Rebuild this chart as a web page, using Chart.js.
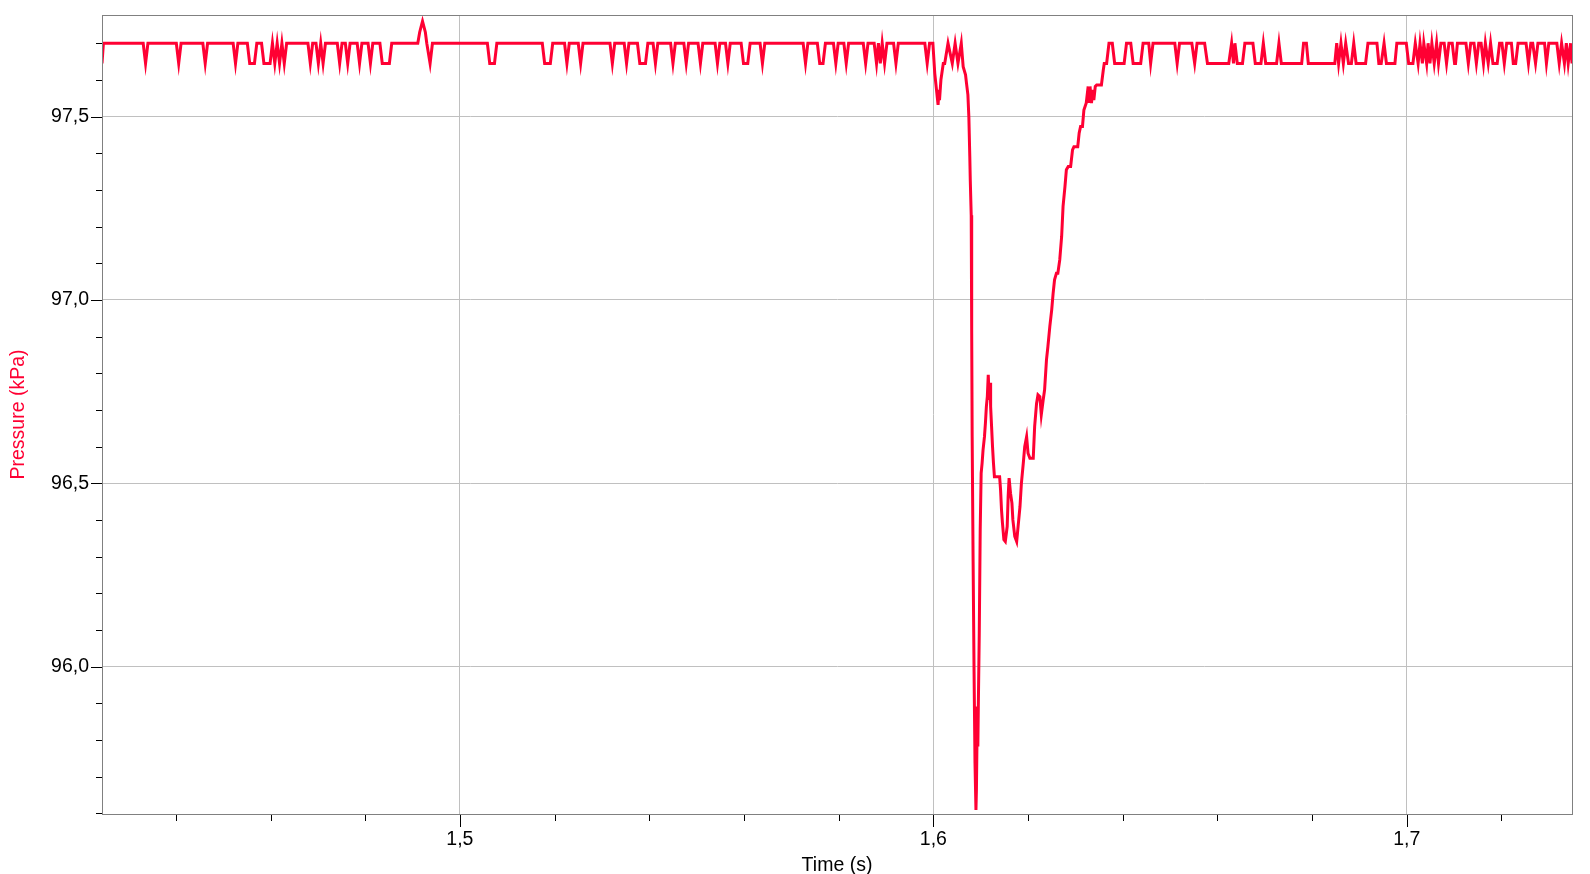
<!DOCTYPE html>
<html>
<head>
<meta charset="utf-8">
<title>Pressure vs time</title>
<script src="https://cdn.jsdelivr.net/npm/chart.js@4.4.1/dist/chart.umd.min.js"></script>
<style>
  html, body { margin: 0; padding: 0; background: #fff; }
  canvas { display: block; }
</style>
</head>
<body>
<canvas id="chart" width="1590" height="874"></canvas>
<script>
// --- data (time in s, pressure in kPa) ---

// quiet baseline before the event: sensor flips between 97,70 and 97,645
const quietTimes = [
  1.4244, 1.4247,
  1.4331, 1.4336, 1.4341,
  1.4401, 1.4406, 1.4411,
  1.4457, 1.4462, 1.4467,
  1.4521, 1.4526, 1.4531,
  1.4551, 1.4556, 1.4566, 1.4571,
  1.4581, 1.4586, 1.4599, 1.4604, 1.4609, 1.4614, 1.4619, 1.4624, 1.4629, 1.4634,
  1.4679, 1.4684, 1.4689,
  1.4696, 1.4701, 1.4706, 1.4711, 1.4716,
  1.4741, 1.4746, 1.4751,
  1.4758, 1.4763, 1.4768,
  1.4783, 1.4788, 1.4793,
  1.4806, 1.4811, 1.4816,
  1.4831, 1.4836, 1.4851, 1.4856,
  1.4911, 1.4915, 1.4921, 1.4927, 1.4930, 1.4937, 1.4942,
  1.5058, 1.5063, 1.5073, 1.5078,
  1.5174, 1.5179, 1.5191, 1.5196,
  1.5221, 1.5226, 1.5231,
  1.5250, 1.5255, 1.5260,
  1.5317, 1.5322, 1.5327,
  1.5347, 1.5352, 1.5357,
  1.5375, 1.5380, 1.5392, 1.5397,
  1.5408, 1.5413, 1.5418,
  1.5445, 1.5450, 1.5455,
  1.5473, 1.5478, 1.5483,
  1.5503, 1.5508, 1.5513,
  1.5539, 1.5544, 1.5549,
  1.5561, 1.5566, 1.5571,
  1.5594, 1.5599, 1.5608, 1.5613,
  1.5634, 1.5639, 1.5644,
  1.5725, 1.5730, 1.5735,
  1.5755, 1.5760, 1.5767, 1.5772,
  1.5789, 1.5794, 1.5799,
  1.5811, 1.5816, 1.5821,
  1.5852, 1.5857, 1.5862,
  1.5875, 1.5880, 1.5884, 1.5888, 1.5892, 1.5897, 1.5902,
  1.5916, 1.5921, 1.5926,
  1.5982, 1.5987, 1.5992, 1.5999
];
const quietPressure = [
  97.645, 97.70,
  97.70, 97.645, 97.70,
  97.70, 97.645, 97.70,
  97.70, 97.645, 97.70,
  97.70, 97.645, 97.70,
  97.70, 97.645, 97.645, 97.70,
  97.70, 97.645, 97.645, 97.70, 97.645, 97.70, 97.645, 97.70, 97.645, 97.70,
  97.70, 97.645, 97.70,
  97.70, 97.645, 97.70, 97.645, 97.70,
  97.70, 97.645, 97.70,
  97.70, 97.645, 97.70,
  97.70, 97.645, 97.70,
  97.70, 97.645, 97.70,
  97.70, 97.645, 97.645, 97.70,
  97.70, 97.73, 97.76, 97.73, 97.70, 97.645, 97.70,
  97.70, 97.645, 97.645, 97.70,
  97.70, 97.645, 97.645, 97.70,
  97.70, 97.645, 97.70,
  97.70, 97.645, 97.70,
  97.70, 97.645, 97.70,
  97.70, 97.645, 97.70,
  97.70, 97.645, 97.645, 97.70,
  97.70, 97.645, 97.70,
  97.70, 97.645, 97.70,
  97.70, 97.645, 97.70,
  97.70, 97.645, 97.70,
  97.70, 97.645, 97.70,
  97.70, 97.645, 97.70,
  97.70, 97.645, 97.645, 97.70,
  97.70, 97.645, 97.70,
  97.70, 97.645, 97.70,
  97.70, 97.645, 97.645, 97.70,
  97.70, 97.645, 97.70,
  97.70, 97.645, 97.70,
  97.70, 97.645, 97.70,
  97.70, 97.645, 97.70, 97.645, 97.70, 97.645, 97.70,
  97.70, 97.645, 97.70,
  97.70, 97.645, 97.70, 97.70
];

// the pressure drop and recovery around 1,61 s
const dropTimes = [
  1.6003, 1.6010, 1.6012, 1.6013, 1.6016, 1.6018, 1.6021, 1.6024,
  1.6031, 1.6040, 1.6046, 1.6052, 1.6059, 1.6063, 1.6068, 1.6070,
  1.6073, 1.6075, 1.6077, 1.6078, 1.6080, 1.6081, 1.6082, 1.6084,
  1.6086, 1.6088, 1.6090, 1.6091, 1.6093, 1.6094, 1.6095, 1.6097,
  1.6099, 1.6101, 1.6103, 1.6105, 1.6108, 1.6110, 1.6112, 1.6114,
  1.6116, 1.6118, 1.6120, 1.6121, 1.6123, 1.6125, 1.6127, 1.6129,
  1.6140, 1.6142, 1.6144, 1.6146, 1.6149, 1.6152, 1.6156, 1.6158,
  1.6160, 1.6163, 1.6166, 1.6168, 1.6172, 1.6176, 1.6179, 1.6183,
  1.6186, 1.6190, 1.6193, 1.6197, 1.6200, 1.6204, 1.6211, 1.6214,
  1.6218, 1.6221, 1.6225, 1.6228, 1.6232, 1.6235, 1.6239, 1.6242,
  1.6246, 1.6250, 1.6253, 1.6256, 1.6260, 1.6263, 1.6267, 1.6271,
  1.6274, 1.6278, 1.6281, 1.6285, 1.6290, 1.6294, 1.6297, 1.6305,
  1.6308, 1.6311, 1.6315, 1.6318, 1.6323, 1.6327, 1.6329, 1.6331,
  1.6334, 1.6337, 1.6339, 1.6342, 1.6345, 1.6355, 1.6359, 1.6361
];
const dropPressure = [
  97.618, 97.532, 97.573, 97.545, 97.600, 97.618, 97.645, 97.645,
  97.700, 97.645, 97.700, 97.645, 97.700, 97.636, 97.614, 97.591,
  97.559, 97.500, 97.391, 97.327, 97.231, 96.918, 96.627, 96.286,
  95.987, 95.737, 95.609, 95.664, 95.891, 95.782, 95.891, 96.091,
  96.373, 96.528, 96.555, 96.591, 96.627, 96.664, 96.709, 96.736,
  96.796, 96.727, 96.774, 96.709, 96.655, 96.600, 96.555, 96.518,
  96.518, 96.482, 96.427, 96.391, 96.346, 96.341, 96.382, 96.464,
  96.514, 96.473, 96.446, 96.400, 96.355, 96.341, 96.382, 96.436,
  96.500, 96.555, 96.600, 96.627, 96.582, 96.568, 96.568, 96.655,
  96.718, 96.741, 96.736, 96.687, 96.727, 96.755, 96.837, 96.873,
  96.927, 96.973, 97.018, 97.055, 97.073, 97.073, 97.109, 97.173,
  97.255, 97.309, 97.355, 97.364, 97.364, 97.409, 97.418, 97.418,
  97.455, 97.473, 97.473, 97.518, 97.537, 97.582, 97.537, 97.582,
  97.537, 97.573, 97.545, 97.582, 97.586, 97.586, 97.627, 97.645
];

// back to the noisy baseline
const settleTimes = [
  1.6366, 1.6371, 1.6378, 1.6383,
  1.6403, 1.6408, 1.6417, 1.6422,
  1.6438, 1.6443, 1.6455, 1.6459, 1.6464,
  1.6510, 1.6515, 1.6520,
  1.6546, 1.6552, 1.6557,
  1.6573, 1.6579,
  1.6624, 1.6630, 1.6634, 1.6637, 1.6642,
  1.6653, 1.6658, 1.6675, 1.6680,
  1.6692, 1.6697, 1.6702,
  1.6725, 1.6730, 1.6735,
  1.6778, 1.6782, 1.6788, 1.6792,
  1.6848, 1.6852, 1.6856, 1.6861, 1.6866, 1.6871, 1.6877,
  1.6883, 1.6888, 1.6893,
  1.6913, 1.6918, 1.6937, 1.6941,
  1.6946, 1.6952, 1.6957,
  1.6975, 1.6979, 1.6999, 1.7004,
  1.7013, 1.7018, 1.7024, 1.7028, 1.7033, 1.7036, 1.7042, 1.7045, 1.7049, 1.7053, 1.7058, 1.7063, 1.7067,
  1.7072, 1.7079, 1.7084, 1.7089, 1.7096, 1.7101,
  1.7103, 1.7107, 1.7125, 1.7130, 1.7135, 1.7142, 1.7147,
  1.7152, 1.7157, 1.7162, 1.7166, 1.7172, 1.7177, 1.7182,
  1.7191, 1.7196, 1.7201, 1.7206, 1.7211, 1.7221, 1.7225,
  1.7230, 1.7235, 1.7252, 1.7257, 1.7262, 1.7266, 1.7272,
  1.7277, 1.7291, 1.7295, 1.7300, 1.7317, 1.7322,
  1.7327, 1.7333, 1.7337, 1.7341, 1.7346, 1.7349
];
const settlePressure = [
  97.645, 97.70, 97.70, 97.645,
  97.645, 97.70, 97.70, 97.645,
  97.645, 97.70, 97.70, 97.645, 97.70,
  97.70, 97.645, 97.70,
  97.70, 97.645, 97.70,
  97.70, 97.645,
  97.645, 97.70, 97.645, 97.70, 97.645,
  97.645, 97.70, 97.70, 97.645,
  97.645, 97.70, 97.645,
  97.645, 97.70, 97.645,
  97.645, 97.70, 97.70, 97.645,
  97.645, 97.70, 97.645, 97.70, 97.645, 97.70, 97.645,
  97.645, 97.70, 97.645,
  97.645, 97.70, 97.70, 97.645,
  97.645, 97.70, 97.645,
  97.645, 97.70, 97.70, 97.645,
  97.645, 97.70, 97.645, 97.70, 97.645, 97.70, 97.645, 97.70, 97.645, 97.70, 97.645, 97.70, 97.645,
  97.70, 97.70, 97.645, 97.70, 97.70, 97.645,
  97.645, 97.70, 97.70, 97.645, 97.70, 97.70, 97.645,
  97.70, 97.70, 97.645, 97.70, 97.645, 97.70, 97.645,
  97.645, 97.70, 97.70, 97.645, 97.70, 97.70, 97.645,
  97.645, 97.70, 97.70, 97.645, 97.70, 97.70, 97.645,
  97.70, 97.70, 97.645, 97.70, 97.70, 97.645,
  97.70, 97.645, 97.70, 97.645, 97.70, 97.645
];

// axes
const timeMin = 1.4244, timeMax = 1.7349;
const pressureMin = 95.598, pressureMax = 97.777;
const timeMajor = [1.5, 1.6, 1.7];
const timeLabels = ['1,5', '1,6', '1,7'];
const timeMinor = [1.44, 1.46, 1.48, 1.52, 1.54, 1.56, 1.58, 1.62, 1.64, 1.66, 1.68, 1.72];
const pressureMajor = [96.0, 96.5, 97.0, 97.5];
const pressureLabels = ['96,0', '96,5', '97,0', '97,5'];
const pressureMinor = [95.6, 95.7, 95.8, 95.9, 96.1, 96.2, 96.3, 96.4, 96.6, 96.7, 96.8, 96.9,
                       97.1, 97.2, 97.3, 97.4, 97.6, 97.7];

const RED = '#ff0033';
const FONT = "'Liberation Sans', Arial, sans-serif";

const times = [...quietTimes, ...dropTimes, ...settleTimes];
const pressures = [...quietPressure, ...dropPressure, ...settlePressure];
const points = times.map((t, i) => ({ x: t, y: pressures[i] }));

const findIdx = (list, v) => list.findIndex(m => Math.abs(m - v) < 1e-6);

// short/long tick marks and the plot frame (Chart.js only has one tick length)
const frameAndTicks = {
  id: 'frameAndTicks',
  afterDraw(chart) {
    const { ctx, chartArea: a, scales: { x, y } } = chart;
    ctx.save();
    ctx.lineWidth = 1;
    ctx.strokeStyle = '#808080';
    ctx.strokeRect(Math.round(a.left) + 0.5, Math.round(a.top) + 0.5,
                   Math.round(a.right - a.left), Math.round(a.bottom - a.top));
    ctx.strokeStyle = '#000';
    ctx.beginPath();
    const yTick = (v, len) => {
      const py = Math.round(y.getPixelForValue(v)) + 0.5;
      ctx.moveTo(Math.round(a.left) - len, py);
      ctx.lineTo(Math.round(a.left), py);
    };
    const xTick = (v, len) => {
      const px = Math.round(x.getPixelForValue(v)) + 0.5;
      ctx.moveTo(px, Math.round(a.bottom) + 1);
      ctx.lineTo(px, Math.round(a.bottom) + 1 + len);
    };
    pressureMajor.forEach(v => yTick(v, 11));
    pressureMinor.forEach(v => yTick(v, 6));
    timeMajor.forEach(v => xTick(v, 12));
    timeMinor.forEach(v => xTick(v, 6));
    ctx.stroke();
    ctx.restore();
  }
};

new Chart(document.getElementById('chart'), {
  type: 'line',
  data: {
    datasets: [{
      label: 'Pressure',
      data: points,
      borderColor: RED,
      borderWidth: 3,
      pointRadius: 0,
      tension: 0,
      fill: false
    }]
  },
  options: {
    responsive: false,
    animation: false,
    parsing: false,
    layout: { padding: { left: 0, top: 15, right: 18, bottom: 0 } },
    plugins: { legend: { display: false }, tooltip: { enabled: false } },
    scales: {
      x: {
        type: 'linear',
        min: timeMin,
        max: timeMax,
        afterBuildTicks: s => { s.ticks = [...timeMinor, ...timeMajor].sort((a, b) => a - b).map(v => ({ value: v })); },
        afterFit: s => { s.height = 60; s.paddingLeft = 0; s.paddingRight = 0; },
        ticks: {
          autoSkip: false,
          maxRotation: 0,
          padding: 13.5,
          color: '#000',
          font: { family: FONT, size: 19.5 },
          callback: v => { const i = findIdx(timeMajor, v); return i >= 0 ? timeLabels[i] : ''; }
        },
        grid: {
          drawTicks: false,
          lineWidth: 1,
          color: c => findIdx(timeMajor, c.tick.value) >= 0 ? '#c0c0c0' : 'rgba(0,0,0,0)'
        },
        border: { color: '#808080' },
        title: {
          display: true,
          text: 'Time (s)',
          color: '#000',
          padding: { top: 0, bottom: 0 },
          font: { family: FONT, size: 19.5, lineHeight: 0.9 }
        }
      },
      y: {
        type: 'linear',
        min: pressureMin,
        max: pressureMax,
        afterBuildTicks: s => { s.ticks = [...pressureMinor, ...pressureMajor].sort((a, b) => a - b).map(v => ({ value: v })); },
        afterFit: s => { s.width = 102; s.paddingTop = 0; s.paddingBottom = 0; },
        ticks: {
          autoSkip: false,
          padding: 13,
          color: '#000',
          font: { family: FONT, size: 19.5 },
          callback: v => { const i = findIdx(pressureMajor, v); return i >= 0 ? pressureLabels[i] : ''; }
        },
        grid: {
          drawTicks: false,
          lineWidth: 1,
          color: c => findIdx(pressureMajor, c.tick.value) >= 0 ? '#c0c0c0' : 'rgba(0,0,0,0)'
        },
        border: { color: '#808080' },
        title: {
          display: true,
          text: 'Pressure (kPa)',
          color: RED,
          padding: { top: 10, bottom: 0 },
          font: { family: FONT, size: 19.5, lineHeight: 0.9 }
        }
      }
    }
  },
  plugins: [frameAndTicks]
});
</script>
</body>
</html>
